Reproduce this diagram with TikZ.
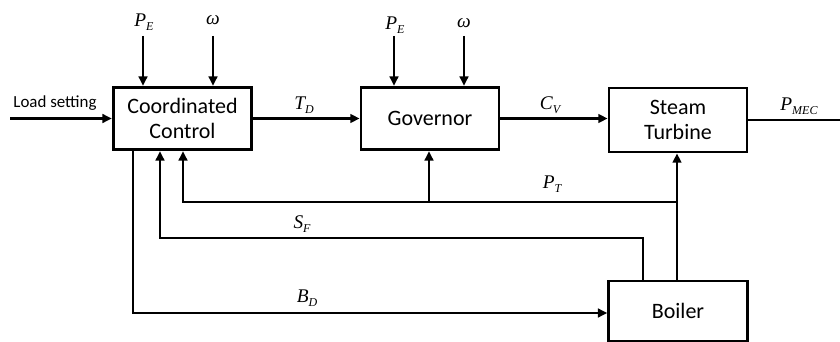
\documentclass[tikz,border=0pt]{standalone}
\usepackage{fontspec}
\setmainfont{Carlito}
\newfontfamily\tnr{Liberation Serif}
\usetikzlibrary{arrows.meta}
\newcommand{\mlab}[2]{{\tnr\itshape #1}\raisebox{-0.45ex}{\fontsize{9}{10}\selectfont\tnr\itshape #2}}
\tikzset{
  blk/.style={draw, line width=2.1pt, align=center, font=\fontsize{16.5}{19}\selectfont, inner sep=0pt},
  conn/.style={line width=1.7pt},
  arr/.style={conn, -{Triangle[length=7pt,width=6.5pt]}},
  lbl/.style={font=\fontsize{14.5}{16}\selectfont, inner sep=0pt},
}
\begin{document}
\begin{tikzpicture}[x=0.75pt,y=-0.75pt]
\useasboundingbox (0,0) rectangle (840,342);
% blocks
\node[blk, minimum width=104pt, minimum height=47pt] (cc) at (182.5,118.5) {Coordinated\\Control};
\node[blk, minimum width=103.5pt, minimum height=47pt] (gov) at (430,118.5) {Governor};
\node[blk, minimum width=103.5pt, minimum height=48pt] (tur) at (678,120) {Steam\\Turbine};
\node[blk, minimum width=104pt, minimum height=45pt] (boi) at (678,311) {Boiler};
% coordinates
\coordinate (ls) at (10,118.5);
\coordinate (pe1) at (143,36);
\coordinate (w1) at (213,36);
\coordinate (pe2) at (394,36);
\coordinate (w2) at (464,36);
\coordinate (out) at (840,120);
\coordinate (ptj) at (677,202);
\coordinate (ptl) at (183,202);
\coordinate (ptg) at (429,202);
\coordinate (sfb) at (643,238);
\coordinate (sfl) at (160,238);
\coordinate (bdl) at (133,313);
% inputs
\draw[arr] (ls) -- (cc.west);
\node[font=\fontsize{12.7}{14}\selectfont, anchor=base] (lst) at (55,108) {Load setting};
\draw[arr] (pe1) -- (pe1 |- cc.north);
\draw[arr] (w1) -- (w1 |- cc.north);
\draw[arr] (pe2) -- (pe2 |- gov.north);
\draw[arr] (w2) -- (w2 |- gov.north);
\node[lbl] (pe1t) at (144,22) {\mlab{P}{E}};
\node[lbl] (w1t) at (213,20) {{\tnr\itshape ω}};
\node[lbl] (pe2t) at (395,25) {\mlab{P}{E}};
\node[lbl] (w2t) at (464,23) {{\tnr\itshape ω}};
% forward path
\draw[arr] (cc.east) -- (gov.west);
\node[lbl] (tdt) at (304,105) {\mlab{T}{D}};
\draw[arr] (gov.east) -- (gov.east -| tur.west);
\node[lbl] (cvt) at (550,105) {\mlab{C}{V}};
\draw[conn] (tur.east) -- (out);
\node[lbl] (pmt) at (799,106) {\mlab{P}{MEC}};
% P_T feedback
\draw[arr] (ptj |- boi.north) -- (ptj |- tur.south);
\draw[arr] (ptj) -- (ptl) -- (ptl |- cc.south);
\draw[arr] (ptg) -- (ptg |- gov.south);
\node[lbl] (ptt) at (552,184) {\mlab{P}{T}};
% S_F feedback
\draw[arr] (sfb |- boi.north) -- (sfb) -- (sfl) -- (sfl |- cc.south);
\node[lbl] (sft) at (302,224) {\mlab{S}{F}};
% B_D
\draw[arr] (bdl |- cc.south) -- (bdl) -- (boi.west |- bdl);
\node[lbl] (bdt) at (307,298) {\mlab{B}{D}};
\end{tikzpicture}
\end{document}
